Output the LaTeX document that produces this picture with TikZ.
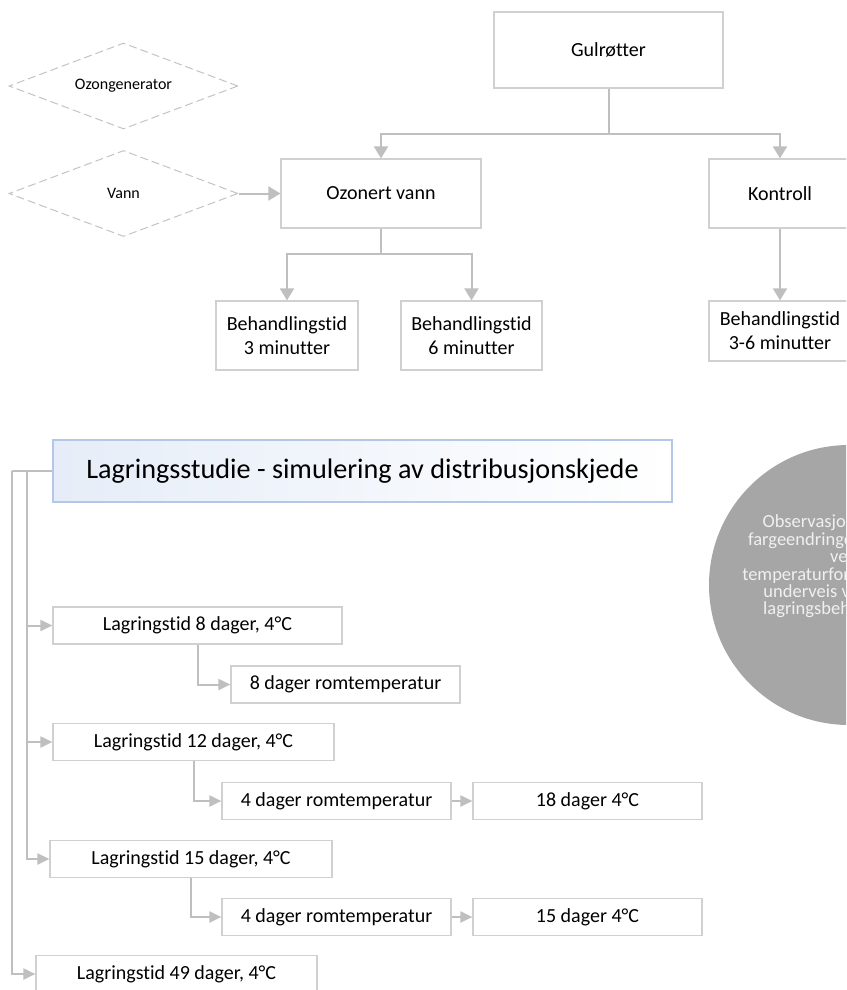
\documentclass[tikz,border=0pt]{standalone}
\usepackage{fontspec}
\setmainfont{Carlito}[Ligatures=CommonOff]
\usepackage{tikz}
\usetikzlibrary{arrows.meta, positioning, shapes.geometric}
\usepackage{xcolor}
\definecolor{lineGray}{RGB}{191,191,191}
\definecolor{boxGray}{RGB}{208,208,208}
\definecolor{dashGray}{RGB}{195,195,195}
\definecolor{hdrBlue}{RGB}{180,199,231}
\definecolor{hdrFill}{RGB}{230,237,248}
\definecolor{circGray}{RGB}{166,166,166}
\definecolor{circText}{RGB}{240,240,240}

\begin{document}
\begin{tikzpicture}[
    x=1pt, y=-1pt,
    box/.style={draw=boxGray, line width=1.2pt, fill=white, align=center, inner sep=0pt, font=\fontsize{20}{24}\selectfont},
    sbox/.style={box, minimum height=37pt, font=\fontsize{20}{24}\selectfont},
    dbox/.style={diamond, draw=dashGray, dash pattern=on 8pt off 4pt, line width=1pt, aspect=2.66, inner sep=0pt, font=\fontsize{16}{19}\selectfont},
    arr/.style={-{Triangle[length=12pt, width=14pt]}, draw=lineGray, line width=2pt},
    sarr/.style={-{Triangle[length=12pt, width=11pt]}, draw=lineGray, line width=2pt},
    link/.style={draw=lineGray, line width=2pt}
  ]
    \useasboundingbox (0,0) rectangle (846,990);
    \clip (0,0) rectangle (846,990);

    % behandling
    \node[box, minimum width=229pt, minimum height=76pt] (gul)  at (608.5,50)  {Gulrøtter};
    \node[box, minimum width=200pt, minimum height=69pt] (ozv)  at (381,193.5) {Ozonert vann};
    \node[box, minimum width=142pt, minimum height=69pt] (kon)  at (780,193.5) {Kontroll};
    \node[box, minimum width=142pt, minimum height=69pt] (b3)   at (287,335.5) {Behandlingstid\\3 minutter};
    \node[box, minimum width=141pt, minimum height=69pt] (b6)   at (471.5,335.5) {Behandlingstid\\6 minutter};
    \node[box, minimum width=142pt, minimum height=60pt] (b36)  at (780,331) {Behandlingstid\\3-6 minutter};
    \node[dbox, minimum width=229pt, minimum height=86pt] (ozg) at (123.5,86) {Ozongenerator};
    \node[dbox, minimum width=229pt, minimum height=86pt] (van) at (123.5,193.5) {Vann};

    \draw[arr] (gul.south) -- ++(0,45) -| (ozv.north);
    \draw[arr] (gul.south) -- ++(0,45) -| (kon.north);
    \draw[arr] (ozv.south) -- ++(0,25) -| (b3.north);
    \draw[arr] (ozv.south) -- ++(0,25) -| (b6.north);
    \draw[arr] (kon) -- (b36);
    \draw[arr] (van.east) -- (ozv.west);

    % lagring
    \node[draw=hdrBlue, line width=1.2pt, left color=hdrFill, right color=white, minimum width=619pt, minimum height=62pt,
          font=\fontsize{28.2}{34}\selectfont] (hdr) at (362.5,471) {Lagringsstudie - simulering av distribusjonskjede};
    \node[circle, fill=circGray, minimum size=280pt, inner sep=0pt] (obs) at (849,585) {};
    \node[text=circText, align=center, font=\fontsize{18.5}{17.4}\selectfont] (obst) at (843.6,566.5)
      {Observasjon av smak,\\fargeendringer og tekstur\\ved\\temperaturforandringer og\\underveis ved lagring\\lagringsbehandlingen};

    \node[sbox, minimum width=289pt] (l8)   at (197.5,625.5) {Lagringstid 8 dager, 4°C};
    \node[sbox, minimum width=229pt] (r8)   at (345.5,684.5) {8 dager romtemperatur};
    \node[sbox, minimum width=281pt] (l12)  at (193.5,742)   {Lagringstid 12 dager, 4°C};
    \node[sbox, minimum width=229pt] (r12a) at (336.5,801)   {4 dager romtemperatur};
    \node[sbox, minimum width=229pt] (r12b) at (587.5,801)   {18 dager 4°C};
    \node[sbox, minimum width=282pt] (l15)  at (191,859)     {Lagringstid 15 dager, 4°C};
    \node[sbox, minimum width=229pt] (r15a) at (336.5,917)   {4 dager romtemperatur};
    \node[sbox, minimum width=229pt] (r15b) at (587.5,917)   {15 dager 4°C};
    \node[sbox, minimum width=281pt] (l49)  at (176.5,974)   {Lagringstid 49 dager, 4°C};

    \coordinate (bus1) at (27,471);
    \coordinate (bus2) at (12,471);
    \draw[link] (hdr.west) -- (bus2);
    \draw[sarr] (bus1) |- (l8.west);
    \draw[sarr] (bus1) |- (l12.west);
    \draw[sarr] (bus1) |- (l15.west);
    \draw[sarr] (bus2) |- (l49.west);
    \draw[sarr] (l8.south) |- (r8.west);
    \draw[sarr] (l12.south) |- (r12a.west);
    \draw[sarr] (l15.south) |- (r15a.west);
    \draw[sarr] (r12a) -- (r12b);
    \draw[sarr] (r15a) -- (r15b);
  \end{tikzpicture}
\end{document}
